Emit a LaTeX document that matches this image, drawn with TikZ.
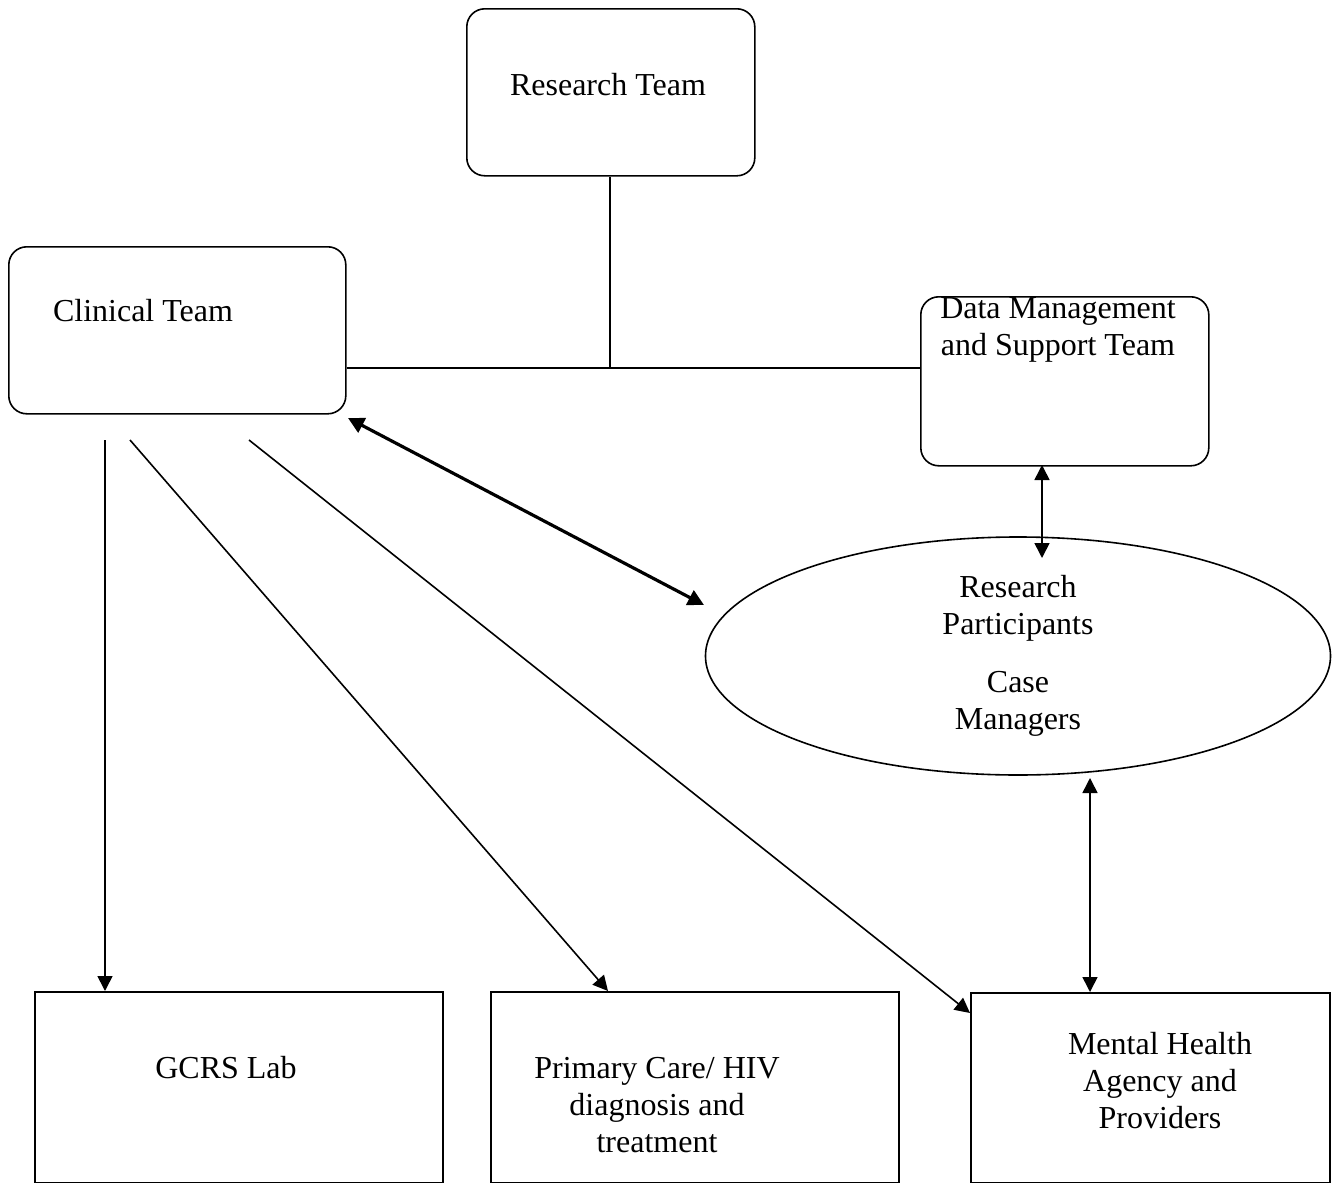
\documentclass[tikz,border=0pt]{standalone}
\usepackage{fontspec}
\setmainfont{Liberation Serif}
\usetikzlibrary{arrows.meta,shapes.geometric}
\begin{document}
\begin{tikzpicture}[x=1pt,y=-1pt,
  line width=1.6pt,
  rbox/.style={draw,rounded corners=18pt,inner sep=0pt,anchor=north west},
  sbox/.style={draw,inner sep=0pt,anchor=north west},
  txt/.style={font=\fontsize{32}{37}\selectfont,align=center,inner sep=0pt},
  tip/.style={-{Triangle[length=15pt,width=15pt]}},
  dtip/.style={{Triangle[length=15pt,width=15pt]}-{Triangle[length=15pt,width=15pt]}},
  btip/.style={line width=3.2pt,{Triangle[length=16pt,width=16pt]}-{Triangle[length=16pt,width=16pt]}}]
\useasboundingbox (0,0) rectangle (1334,1183);
% boxes
\node[rbox,minimum width=288pt,minimum height=167pt] (rt) at (466,8) {};
\node[rbox,minimum width=337pt,minimum height=167pt] (ct) at (8,246) {};
\node[rbox,minimum width=288pt,minimum height=169pt] (dm) at (920,296) {};
\node[draw,ellipse,minimum width=625pt,minimum height=238pt,inner sep=0pt] (rp) at (1018,656) {};
\node[sbox,minimum width=408pt,minimum height=191pt] (gl) at (34,991) {};
\node[sbox,minimum width=408pt,minimum height=191pt] (pc) at (490,991) {};
\node[sbox,minimum width=359pt,minimum height=190pt] (mh) at (970,992) {};
% texts
\node[txt] (trt) at (608,85) {Research Team};
\node[txt] (tct) at (143,311) {Clinical Team};
\node[txt] (tdm) at (1058,330) {Data Management\\and Support Team};
\node[txt] (trp) at (1018,608) {Research\\Participants};
\node[txt] (tcm) at (1018,704) {Case\\Managers};
\node[txt] (tgl) at (226,1068) {GCRS Lab};
\node[txt] (tpc) at (657,1105) {Primary Care/ HIV\\diagnosis and\\treatment};
\node[txt] (tmh) at (1160,1081) {Mental Health\\Agency and\\Providers};
% tree connector
\coordinate (j) at (610,368);
\draw (rt.south -| j) -- (j);
\draw (ct.east |- j) -- (dm.west |- j);
% coordinates
\coordinate (c1) at (105,440);
\coordinate (c2) at (130,440);
\coordinate (c3) at (249,440);
\coordinate (b1) at (348,418);
\coordinate (b2) at (704,605);
\coordinate (d1) at (1042,465);
\coordinate (d2) at (1042,558);
\coordinate (e1) at (1090,778);
\coordinate (e2) at (1090,992);
% arrows
\draw[tip] (c1) -- (gl.north -| c1);
\draw[tip] (c2) -- (608,991);
\draw[tip] (c3) -- (970,1013);
\draw[btip] (b1) -- (b2);
\draw[dtip] (d1) -- (d2);
\draw[dtip] (e1) -- (e2);
\end{tikzpicture}
\end{document}
